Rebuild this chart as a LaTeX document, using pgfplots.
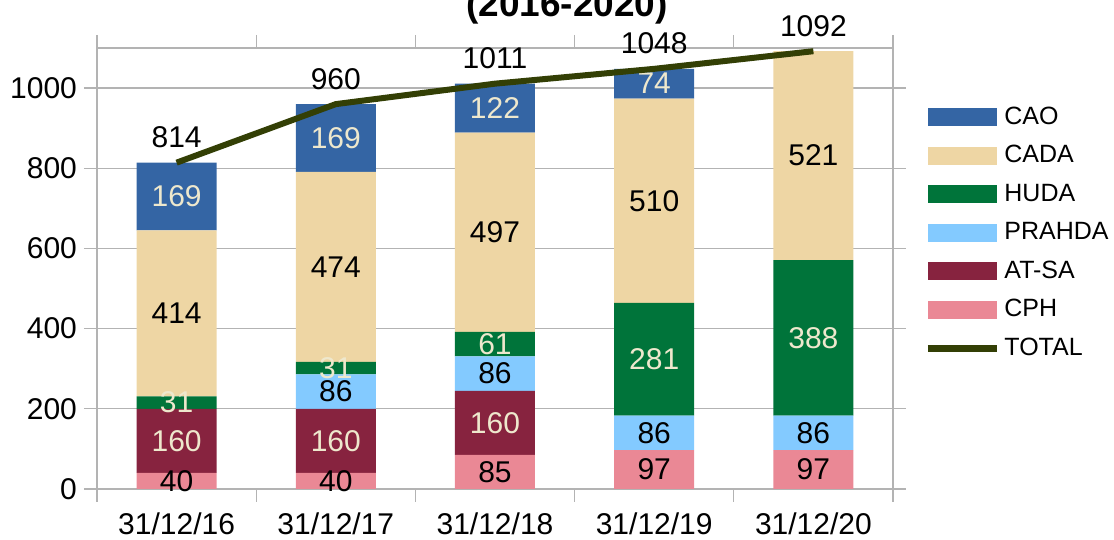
\documentclass[border=0pt]{standalone}
\usepackage{fontspec}
\setmainfont{Liberation Sans}
\usepackage{pgfplots}
\usepackage{pgfplotstable}
\pgfplotsset{compat=1.18}

\definecolor{cao}{HTML}{3465A4}
\definecolor{cada}{HTML}{EED6A4}
\definecolor{huda}{HTML}{00743A}
\definecolor{prahda}{HTML}{83CAFF}
\definecolor{atsa}{HTML}{87233F}
\definecolor{cph}{HTML}{EA8895}
\definecolor{totalc}{HTML}{333F05}
\definecolor{cream}{HTML}{EEE8CD}
\definecolor{gridc}{HTML}{B3B3B3}

\newcommand{\labfont}{\fontsize{15}{18}\selectfont}
\newcommand{\legfont}{\fontsize{12.5}{15}\selectfont}

% stacked from the bottom up
\pgfplotstableread{
x CPH ATSA PRAHDA HUDA CADA CAO TOTAL
0 40 160 0 31 414 169 814
1 40 160 86 31 474 169 960
2 85 160 86 61 497 122 1011
3 97 0 86 281 510 74 1048
4 97 0 86 388 521 0 1092
}\datatable

\begin{document}
\begin{tikzpicture}
\pgfplotsset{
  base/.style={scale only axis, width=398pt, height=220.5pt,
    xmin=-0.5, xmax=4.5, ymin=0, ymax=1100, enlargelimits=false,
    /pgf/number format/1000 sep={},
    /pgf/number format/assume math mode=true},
  % one stacked segment: fill colour, label colour
  % (stacked nodes near coords already sit mid-segment)
  seg/.style 2 args={fill=#1, draw=none,
    legend image code/.code={\fill[#1] (0pt,-4.5pt) rectangle (34.5pt,4.5pt);},
    point meta=explicit symbolic,
    nodes near coords={\ifnum\pgfplotspointmeta>0 \pgfplotspointmeta\fi},
    every node near coord/.style={anchor=center, font=\labfont, text=#2}},
}
\begin{axis}[base,
  ybar stacked, bar width=40pt,
  xtick={0,...,4},
  xticklabels={31/12/16,31/12/17,31/12/18,31/12/19,31/12/20},
  minor xtick={-0.5,0.5,...,4.5},
  ytick={0,200,...,1000},
  tick align=outside,
  major tick length=6.5pt, minor tick length=6.5pt,
  major x tick style={draw=none},
  tick style={draw=gridc, line width=0.6pt},
  axis line style={draw=gridc, line width=0.6pt},
  ymajorgrids, major grid style={draw=gridc, line width=0.6pt},
  ticklabel style={font=\labfont},
  xticklabel style={yshift=-2pt},
  reverse legend,
  legend style={at={(1.039,0.5816)}, anchor=west, draw=none, fill=none,
    inner sep=0pt, font=\legfont, row sep=0pt,
    nodes={inner sep=0pt, inner xsep=2pt, minimum height=19.25pt}},
  legend cell align=left,
]
\addlegendimage{color=totalc, line width=3.5pt,
  legend image code/.code={\draw (0pt,0pt) -- (34.5pt,0pt);}}
\addlegendentry{TOTAL}
\addplot[seg={cph}{black}] table[x=x,y=CPH,meta=CPH]{\datatable};
\addlegendentry{CPH}
\addplot[seg={atsa}{cream}] table[x=x,y=ATSA,meta=ATSA]{\datatable};
\addlegendentry{AT-SA}
\addplot[seg={prahda}{black}] table[x=x,y=PRAHDA,meta=PRAHDA]{\datatable};
\addlegendentry{PRAHDA}
\addplot[seg={huda}{cream}] table[x=x,y=HUDA,meta=HUDA]{\datatable};
\addlegendentry{HUDA}
\addplot[seg={cada}{black}] table[x=x,y=CADA,meta=CADA]{\datatable};
\addlegendentry{CADA}
\addplot[seg={cao}{cream}] table[x=x,y=CAO,meta=CAO]{\datatable};
\addlegendentry{CAO}
\end{axis}
\begin{axis}[base, hide axis, clip=false]
\addplot[color=totalc, line width=3pt, mark=none, line cap=butt,
  point meta=explicit symbolic,
  nodes near coords={\pgfplotspointmeta},
  every node near coord/.append style={anchor=base, yshift=7.5pt, inner sep=0pt,
    font=\labfont, text=black}] table[x=x,y=TOTAL,meta=TOTAL]{\datatable};
\end{axis}
\node[font=\bfseries\fontsize{18.5}{22}\selectfont, anchor=base] at (235pt,236pt) {(2016-2020)};
\pgfresetboundingbox
\path[use as bounding box] (-48.5pt,-25.5pt) rectangle (508.5pt,244.5pt);
\end{tikzpicture}
\end{document}
